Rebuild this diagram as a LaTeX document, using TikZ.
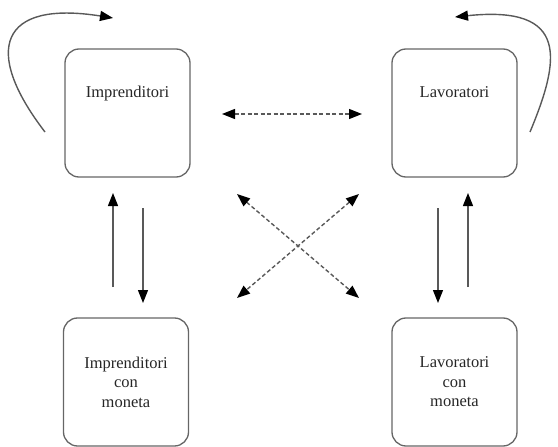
\documentclass[tikz,border=0pt]{standalone}
\usepackage{fontspec}
\setmainfont{Liberation Serif}
\usetikzlibrary{arrows.meta}
\tikzset{
  box/.style={draw=black!60, line width=1.3pt, rounded corners=14pt,
    minimum width=125pt, inner sep=0pt, align=center, text=black!85,
    font=\fontsize{16.5}{19.5}\selectfont},
  topbox/.style={box, text height=48pt, text depth=80pt},
  lowbox/.style={box, minimum height=128pt},
  flow/.style={draw=black!65, line width=1.4pt,
    >={Triangle[length=13pt,width=10pt,color=black]}, ->},
  swap/.style={flow, <->, dash pattern=on 4pt off 2.5pt}
}
\begin{document}
\begin{tikzpicture}[x=1pt,y=-1pt]
  \useasboundingbox (0,0) rectangle (558,447);
  \draw
    (127.5,113) node[topbox] (imp){Imprenditori}
    (454.5,113) node[topbox] (lav){Lavoratori}
    (126,382) node[lowbox] (impm){Imprenditori\\con\\moneta}
    (454.5,382) node[lowbox] (lavm){Lavoratori\\con\\moneta};
  % ends of the connectors
  \coordinate (1) at (113,287);
  \coordinate (2) at (113,193);
  \coordinate (3) at (143,208);
  \coordinate (4) at (143,303);
  \coordinate (5) at (438,208);
  \coordinate (6) at (438,303);
  \coordinate (7) at (468,287);
  \coordinate (8) at (468,193);
  \coordinate (9) at (222,114);
  \coordinate (10) at (362,114);
  \coordinate (11) at (237,194);
  \coordinate (12) at (359,298);
  \coordinate (13) at (359,194);
  \coordinate (14) at (237,298);
  \coordinate (15) at (45,132);
  \coordinate (16) at (113,18);
  \coordinate (17) at (530,132);
  \coordinate (18) at (455,17);
  \begin{scope}[flow]
    \draw (1) to (2);
    \draw (3) to (4);
    \draw (5) to (6);
    \draw (7) to (8);
    \draw (15) .. controls (-18,50) and (0,0) .. (16);
    \draw (17) .. controls (560,60) and (570,5) .. (18);
  \end{scope}
  \begin{scope}[swap]
    \draw (9) to (10);
    \draw (11) to (12);
    \draw (13) to (14);
  \end{scope}
\end{tikzpicture}
\end{document}
